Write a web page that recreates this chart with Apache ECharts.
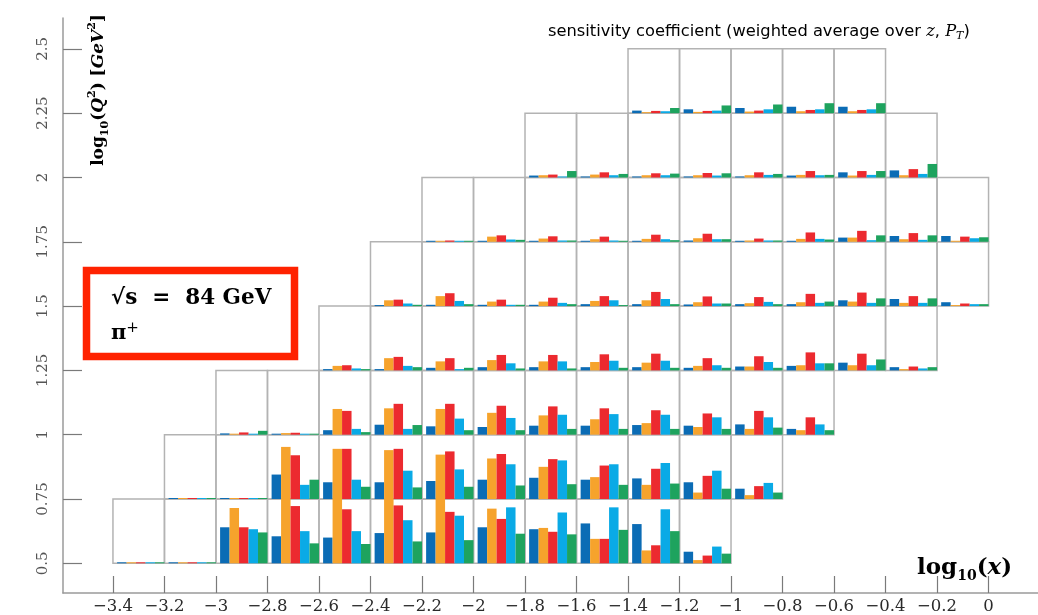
<!DOCTYPE html>
<html><head><meta charset="utf-8">
<script src="https://cdn.jsdelivr.net/npm/echarts@6/dist/echarts.min.js"></script>
<style>html,body{margin:0;padding:0;background:#fff}#c{width:1038px;height:615px}</style>
</head><body><div id="c"></div>
<script>
// ---------------- data ----------------
const xTicks = [-3.4,-3.2,-3,-2.8,-2.6,-2.4,-2.2,-2,-1.8,-1.6,-1.4,-1.2,-1,-0.8,-0.6,-0.4,-0.2,0];
const yTicks = [0.5,0.75,1,1.25,1.5,1.75,2,2.25,2.5];
const barNames = ['blue','orange','red','cyan','green'];
const binWidthX = 0.2;      // log10(x) bin width
const binWidthQ = 0.25;     // log10(Q^2) bin width
const rowQ2 = [0.5,0.75,1,1.25,1.5,1.75,2,2.25];          // lower edge of each Q^2 row
const rowStartX = [-3.4,-3.2,-3.0,-2.6,-2.4,-2.2,-1.8,-1.4]; // lower x edge of first bin in each row
// sensitivity values per bin (5 bars each), relative to bin height
const row0 = [[0.006,0.006,0.006,0.006,0.006],[0.006,0.008,0.008,0.006,0.006],[0.56,0.86,0.56,0.53,0.48],[0.42,1.0,0.89,0.50,0.31],[0.40,1.0,0.84,0.50,0.30],[0.47,1.0,0.90,0.67,0.34],[0.48,1.0,0.80,0.74,0.36],[0.56,0.85,0.69,0.87,0.46],[0.53,0.55,0.49,0.79,0.45],[0.62,0.38,0.38,0.87,0.52],[0.61,0.20,0.28,0.84,0.50],[0.18,0.05,0.12,0.26,0.15]];
const row1 = [[0.003,0.003,0.003,0.003,0.003],[0.008,0.01,0.01,0.006,0.006],[0.38,0.81,0.68,0.22,0.30],[0.26,0.78,0.78,0.30,0.19],[0.26,0.76,0.78,0.44,0.18],[0.28,0.69,0.74,0.46,0.19],[0.30,0.63,0.70,0.54,0.21],[0.33,0.50,0.62,0.60,0.23],[0.30,0.34,0.52,0.54,0.22],[0.32,0.22,0.47,0.56,0.24],[0.26,0.10,0.36,0.44,0.16],[0.16,0.06,0.20,0.25,0.10]];
const row2 = [[0.02,0.01,0.035,0.01,0.06],[0.012,0.025,0.03,0.005,0.012],[0.07,0.40,0.37,0.09,0.04],[0.155,0.41,0.48,0.09,0.15],[0.13,0.40,0.48,0.25,0.07],[0.12,0.34,0.45,0.26,0.07],[0.14,0.30,0.44,0.31,0.09],[0.14,0.24,0.41,0.32,0.09],[0.15,0.18,0.38,0.31,0.09],[0.14,0.12,0.33,0.27,0.09],[0.16,0.09,0.37,0.27,0.11],[0.09,0.07,0.27,0.16,0.07]];
const row3 = [[0.02,0.07,0.08,0.03,0.02],[0.02,0.19,0.21,0.07,0.05],[0.04,0.14,0.19,0.02,0.04],[0.05,0.16,0.24,0.11,0.03],[0.05,0.14,0.24,0.14,0.03],[0.05,0.13,0.25,0.15,0.04],[0.05,0.12,0.26,0.15,0.04],[0.04,0.07,0.19,0.08,0.04],[0.06,0.06,0.22,0.13,0.04],[0.07,0.08,0.28,0.11,0.11],[0.12,0.08,0.26,0.08,0.17],[0.05,0.02,0.06,0.03,0.05]];
const row4 = [[0.01,0.09,0.10,0.04,0.02],[0.02,0.155,0.20,0.08,0.03],[0.02,0.07,0.10,0.02,0.02],[0.02,0.07,0.13,0.05,0.03],[0.03,0.08,0.155,0.09,0.015],[0.03,0.09,0.22,0.11,0.03],[0.025,0.06,0.15,0.04,0.04],[0.03,0.045,0.14,0.065,0.03],[0.03,0.06,0.19,0.05,0.07],[0.09,0.07,0.21,0.05,0.12],[0.11,0.05,0.155,0.05,0.12],[0.06,0.015,0.04,0.03,0.03]];
const row5 = [[0.003,0.015,0.02,0.005,0.005],[0.01,0.08,0.10,0.035,0.03],[0.01,0.05,0.085,0.02,0.02],[0.005,0.04,0.08,0.02,0.01],[0.015,0.045,0.11,0.04,0.025],[0.02,0.055,0.125,0.04,0.04],[0.01,0.02,0.05,0.02,0.02],[0.005,0.045,0.145,0.045,0.035],[0.065,0.065,0.17,0.025,0.10],[0.09,0.04,0.135,0.03,0.10],[0.09,0.015,0.08,0.055,0.07]];
const row6 = [[0.03,0.035,0.045,0.015,0.10],[0.015,0.045,0.08,0.035,0.055],[0.01,0.035,0.065,0.035,0.06],[0.01,0.035,0.07,0.03,0.065],[0.015,0.035,0.08,0.04,0.055],[0.03,0.04,0.10,0.035,0.04],[0.08,0.03,0.10,0.04,0.10],[0.11,0.035,0.13,0.055,0.21]];
const row7 = [[0.04,0.015,0.035,0.03,0.08],[0.06,0.02,0.035,0.04,0.12],[0.08,0.025,0.04,0.06,0.135],[0.10,0.03,0.05,0.06,0.155],[0.10,0.03,0.05,0.06,0.155]];
const rows = [row0,row1,row2,row3,row4,row5,row6,row7];

// ---------------- styles ----------------
const barColors = {blue:'#0b6cb5', orange:'#f6a32c', red:'#ec2a2f', cyan:'#0aaae6', green:'#1ea35e'};
const SERIF = '"DejaVu Serif", serif';

const cellData = [];
const barData = [];
rows.forEach((row, r) => {
  row.forEach((vals, c) => {
    const x0 = +(rowStartX[r] + c * binWidthX).toFixed(3);
    cellData.push([x0, rowQ2[r]]);
    vals.forEach((v, k) => barData.push([x0, rowQ2[r], k, v]));
  });
});

function renderCell(params, api) {
  const x0 = api.value(0), q0 = api.value(1);
  const p0 = api.coord([x0, q0]);
  const p1 = api.coord([x0 + binWidthX, q0 + binWidthQ]);
  return {type:'rect', shape:{x:p0[0], y:p1[1], width:p1[0]-p0[0], height:p0[1]-p1[1]},
    style:{fill:null, stroke:'#b3b3b3', lineWidth:1.5}};
}
function renderBar(params, api) {
  const x0 = api.value(0), q0 = api.value(1), k = api.value(2), v = Math.min(api.value(3), 1);
  const left = x0 + binWidthX * (0.08 + k * 0.184);
  const p0 = api.coord([left, q0]);
  const p1 = api.coord([left + binWidthX * 0.184, q0 + binWidthQ * v]);
  const h = Math.max(p0[1] - p1[1], 1);
  return {type:'rect', shape:{x:p0[0], y:p0[1]-h, width:p1[0]-p0[0], height:h},
    style:{fill: barColors[barNames[k]]}};
}
function fmtX(v) {
  const r = Math.round(v * 10) / 10;
  if (r === 0) return '0';
  return (r < 0 ? '\u2212' : '') + String(Math.abs(r));
}

const chart = echarts.init(document.getElementById('c'), null, {renderer:'canvas'});
chart.setOption({
  animation:false,
  backgroundColor:'#fff',
  grid:{left:63, top:18, width:975, height:575, containLabel:false},
  xAxis:{type:'value', min:-3.594, max:0.192,
    axisLine:{show:true, onZero:false, lineStyle:{color:'#9a9a9a', width:1.5}},
    splitLine:{show:false},
    axisTick:{show:true, inside:true, length:17, customValues:xTicks, lineStyle:{color:'#7a7a7a', width:1.2}},
    axisLabel:{customValues:xTicks, formatter:fmtX, fontFamily:SERIF, fontSize:16.5, color:'#2a2a2a', margin:5}},
  yAxis:{type:'value', min:0.3845, max:2.62,
    axisLine:{show:true, onZero:false, lineStyle:{color:'#9a9a9a', width:1.5}},
    splitLine:{show:false},
    axisTick:{show:true, inside:true, length:19, customValues:yTicks, lineStyle:{color:'#7a7a7a', width:1.2}},
    axisLabel:{customValues:yTicks, rotate:90, formatter:v=>String(+v.toFixed(2)), fontFamily:SERIF, fontSize:15, color:'#555', margin:12}},
  series:[
    {type:'custom', name:'cells', renderItem:renderCell, data:cellData, silent:true, clip:false, z:1},
    {type:'custom', name:'bars', renderItem:renderBar, data:barData, silent:true, clip:false, z:2}
  ],
  graphic:[
    {type:'text', left:548, top:24, z:10, style:{
      text:'{a|sensitivity coefficient (weighted average over }{i|z}{a|, }{i|P}{s|T}{a|)}',
      rich:{a:{fontFamily:'"DejaVu Sans"', fontSize:16.3, color:'#222', lineHeight:20},
            i:{fontFamily:'"DejaVu Serif"', fontStyle:'italic', fontSize:16.3, color:'#222', lineHeight:20},
            s:{fontFamily:'"DejaVu Serif"', fontStyle:'italic', fontSize:11, color:'#222', lineHeight:11, verticalAlign:'bottom'}}}},
    {type:'rect', z:10, shape:{x:86.5, y:270.5, width:208, height:86}, style:{fill:'#fff', stroke:'#ff2200', lineWidth:7.5}},
    {type:'text', left:111, top:287, z:11, style:{
      text:'{b|\u221As  =  84 GeV}', rich:{b:{fontFamily:SERIF, fontWeight:'bold', fontSize:21.5, color:'#111'}}}},
    {type:'text', left:111, top:321, z:11, style:{
      text:'{b|\u03C0}{p|+}', rich:{b:{fontFamily:SERIF, fontWeight:'bold', fontSize:21, color:'#111', lineHeight:25},
        p:{fontFamily:SERIF, fontSize:15, color:'#111', lineHeight:15, verticalAlign:'top'}}}},
    {type:'text', left:917, top:557, z:10, style:{
      text:'{b|log}{s|10}{b|(}{i|x}{b|)}',
      rich:{b:{fontFamily:SERIF, fontWeight:'bold', fontSize:23, color:'#111', lineHeight:29},
            i:{fontFamily:SERIF, fontWeight:'bold', fontStyle:'italic', fontSize:23, color:'#111', lineHeight:29},
            s:{fontFamily:SERIF, fontWeight:'bold', fontSize:14, color:'#111', lineHeight:14, verticalAlign:'bottom'}}}},
    {type:'text', x:99, y:90, rotation:Math.PI/2, z:10, style:{
      align:'center', verticalAlign:'middle',
      text:'{b|log}{s|10}{b|(}{i|Q}{p|2}{b|) [}{i|GeV}{p|2}{b|]}',
      rich:{b:{fontFamily:SERIF, fontWeight:'bold', fontSize:17, color:'#111', lineHeight:24},
            i:{fontFamily:SERIF, fontWeight:'bold', fontStyle:'italic', fontSize:17, color:'#111', lineHeight:24},
            s:{fontFamily:SERIF, fontWeight:'bold', fontSize:11, color:'#111', lineHeight:11, verticalAlign:'bottom'},
            p:{fontFamily:SERIF, fontWeight:'bold', fontSize:11, color:'#111', lineHeight:11, verticalAlign:'top'}}}}
  ]
});
</script></body></html>
